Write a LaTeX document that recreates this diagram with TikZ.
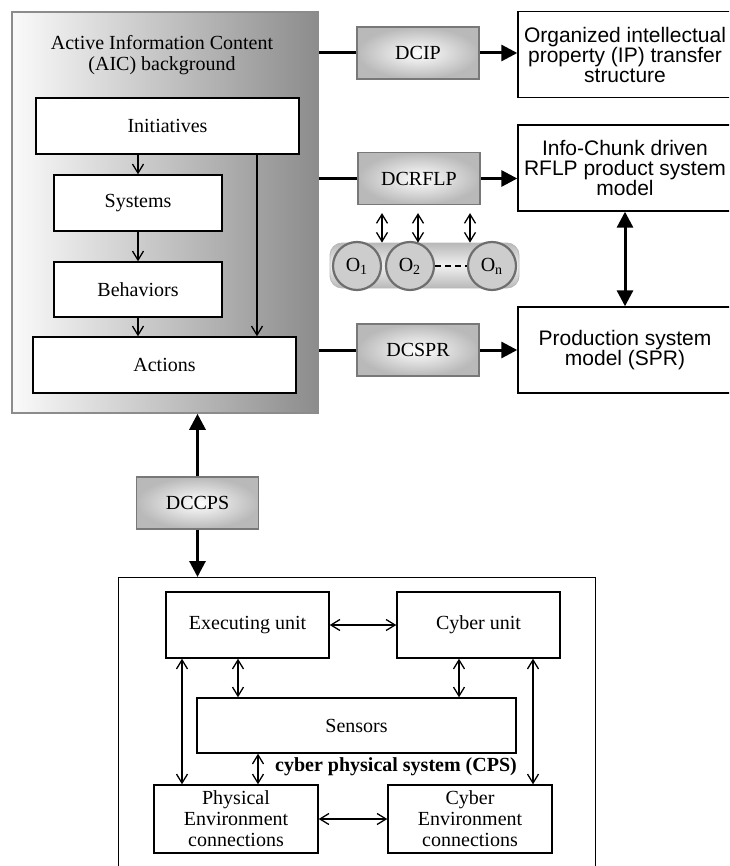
\documentclass[tikz,border=0pt]{standalone}
\usepackage{fontspec}
\setmainfont{Liberation Serif}
\newfontfamily\sansfam{Liberation Sans}
\usepackage{tikz}
\usetikzlibrary{arrows.meta,positioning,calc}
\definecolor{aicpale}{RGB}{250,250,250}
\definecolor{aicdark}{RGB}{140,140,140}
\definecolor{dcedge}{RGB}{120,120,120}
\definecolor{dcouter}{RGB}{185,185,185}
\definecolor{capsmid}{RGB}{240,240,240}
\definecolor{capsedge}{RGB}{185,185,185}
\definecolor{ofill}{RGB}{205,205,205}
\definecolor{oedge}{RGB}{110,110,110}

\begin{document}
\begin{tikzpicture}[x=0.5pt,y=-0.5pt,>={Straight Barb[length=4.5pt,width=5.5pt]},
  every node/.style={font=\fontsize{10}{10.5}\selectfont,align=center,inner sep=1pt},
  wbox/.style={draw,fill=white,line width=0.7pt},
  dcbox/.style={draw=dcedge,line width=0.6pt,inner color=white,outer color=dcouter,minimum width=61pt,minimum height=26pt},
  rbox/.style={draw,fill=white,line width=0.7pt,minimum width=107pt,minimum height=43pt,font=\sansfam\fontsize{10.5}{10}\selectfont},
  obj/.style={circle,draw=oedge,line width=1.1pt,fill=ofill,minimum size=24pt,inner sep=0pt},
  lnk/.style={line width=0.65pt},
  bar/.style={line width=1.5pt},
  big/.style={line width=1.5pt,-{Triangle[length=8pt,width=8pt]}},
  bigboth/.style={line width=1.5pt,{Triangle[length=8pt,width=8pt]}-{Triangle[length=8pt,width=8pt]}}]
  \useasboundingbox (0,0) rectangle (729,866);
  \clip (0,0) rectangle (729,866);

  \node[draw=aicdark,line width=0.8pt,left color=aicpale,right color=aicdark,minimum width=153pt,minimum height=200.5pt] (aic) at (165,212.5) {};
  \node (aictitle) at (162,55) {Active Information Content\\(AIC) background};
  \node[wbox,minimum width=131.5pt,minimum height=28pt] (init) at (167.5,126) {Initiatives};
  \node[wbox,minimum width=84pt,minimum height=28pt] (sys) at (138,203) {Systems};
  \node[wbox,minimum width=84pt,minimum height=27.5pt] (beh) at (138,289.5) {Behaviors};
  \node[wbox,minimum width=131.5pt,minimum height=28pt] (act) at (164.5,365) {Actions};
  \draw[lnk,->] (init.south -| sys) -- (sys.north);
  \draw[lnk,->] (sys) -- (beh);
  \draw[lnk,->] (beh.south) -- (beh.south |- act.north);
  \draw[lnk,->] ([xshift=44.75pt]init.south) -- ([xshift=44.75pt]init.south |- act.north);

  \node[dcbox] (dcip) at (418,53) {DCIP};
  \node[dcbox] (dcrflp) at (419,178.5) {DCRFLP};
  \node[dcbox] (dcspr) at (418,350) {DCSPR};
  \node[dcbox] (dccps) at (197.5,503) {DCCPS};

  \node[rbox] (ipbox) at (625,54.5) {Organized intellectual\\property (IP) transfer\\structure};
  \node[rbox] (rflp) at (625,168) {Info-Chunk driven\\RFLP product system\\model};
  \node[rbox] (spr) at (625,350) {Production system\\model (SPR)};

  \draw[bar] (aic.east |- dcip) -- (dcip);
  \draw[bar] (aic.east |- dcrflp) -- (dcrflp);
  \draw[bar] (aic.east |- dcspr) -- (dcspr);
  \draw[big] (dcip) -- (dcip -| ipbox.west);
  \draw[big] (dcrflp) -- (dcrflp -| rflp.west);
  \draw[big] (dcspr) -- (dcspr -| spr.west);
  \draw[bigboth] (rflp.south) -- (spr.north);

  \node[draw=capsedge,rounded corners=6pt,top color=capsedge,bottom color=capsedge,middle color=capsmid,minimum width=94.5pt,minimum height=22.5pt] (caps) at (424.5,265.5) {};
  \node[obj] (o1) at (357,266) {O\textsubscript{1}};
  \node[obj] (o2) at (410,266) {O\textsubscript{2}};
  \node[obj] (on) at (492,266) {O\textsubscript{n}};
  \draw[lnk,dash pattern=on 3pt off 2pt] (o2) -- (on);
  \foreach \dx in {-18.5,-0.5,25.5}
    \draw[lnk,<->] ([xshift=\dx pt,yshift=-4pt]dcrflp.south) -- ([xshift=\dx pt]dcrflp.south |- caps.north);

  \draw[big] (dccps) -- (dccps |- aic.south);
  \node[draw,line width=0.7pt,minimum width=238.5pt,minimum height=160pt,anchor=north west] (cps) at (118,577) {};
  \draw[big] (dccps) -- (dccps |- cps.north);

  \node[wbox,minimum width=81.5pt,minimum height=33pt] (exec) at (247.5,625) {Executing unit};
  \node[wbox,minimum width=81.5pt,minimum height=33pt] (cyb) at (478.5,625) {Cyber unit};
  \node[wbox,minimum width=159.5pt,minimum height=27.5pt] (sens) at (356.5,725.5) {Sensors};
  \node[wbox,minimum width=82pt,minimum height=34pt] (phys) at (236,819) {Physical\\Environment\\connections};
  \node[wbox,minimum width=82pt,minimum height=34pt] (cenv) at (470,819) {Cyber\\Environment\\connections};
  \node[font=\bfseries\fontsize{10}{10.5}\selectfont] (cpslabel) at (396,767) {cyber physical system (CPS)};
  \draw[lnk,<->] (exec) -- (cyb);
  \draw[lnk,<->] ([xshift=-4.75pt]exec.south) -- ([xshift=-4.75pt]exec.south |- sens.north);
  \draw[lnk,<->] ([xshift=-9.75pt]cyb.south) -- ([xshift=-9.75pt]cyb.south |- sens.north);
  \draw[lnk,<->] ([xshift=-32.75pt]exec.south) -- ([xshift=-32.75pt]exec.south |- phys.north);
  \draw[lnk,<->] ([xshift=27.25pt]cyb.south) -- ([xshift=27.25pt]cyb.south |- cenv.north);
  \draw[lnk,<->] ([xshift=-49.25pt]sens.south) -- ([xshift=-49.25pt]sens.south |- phys.north);
  \draw[lnk,<->] (phys) -- (cenv);
\end{tikzpicture}
\end{document}
